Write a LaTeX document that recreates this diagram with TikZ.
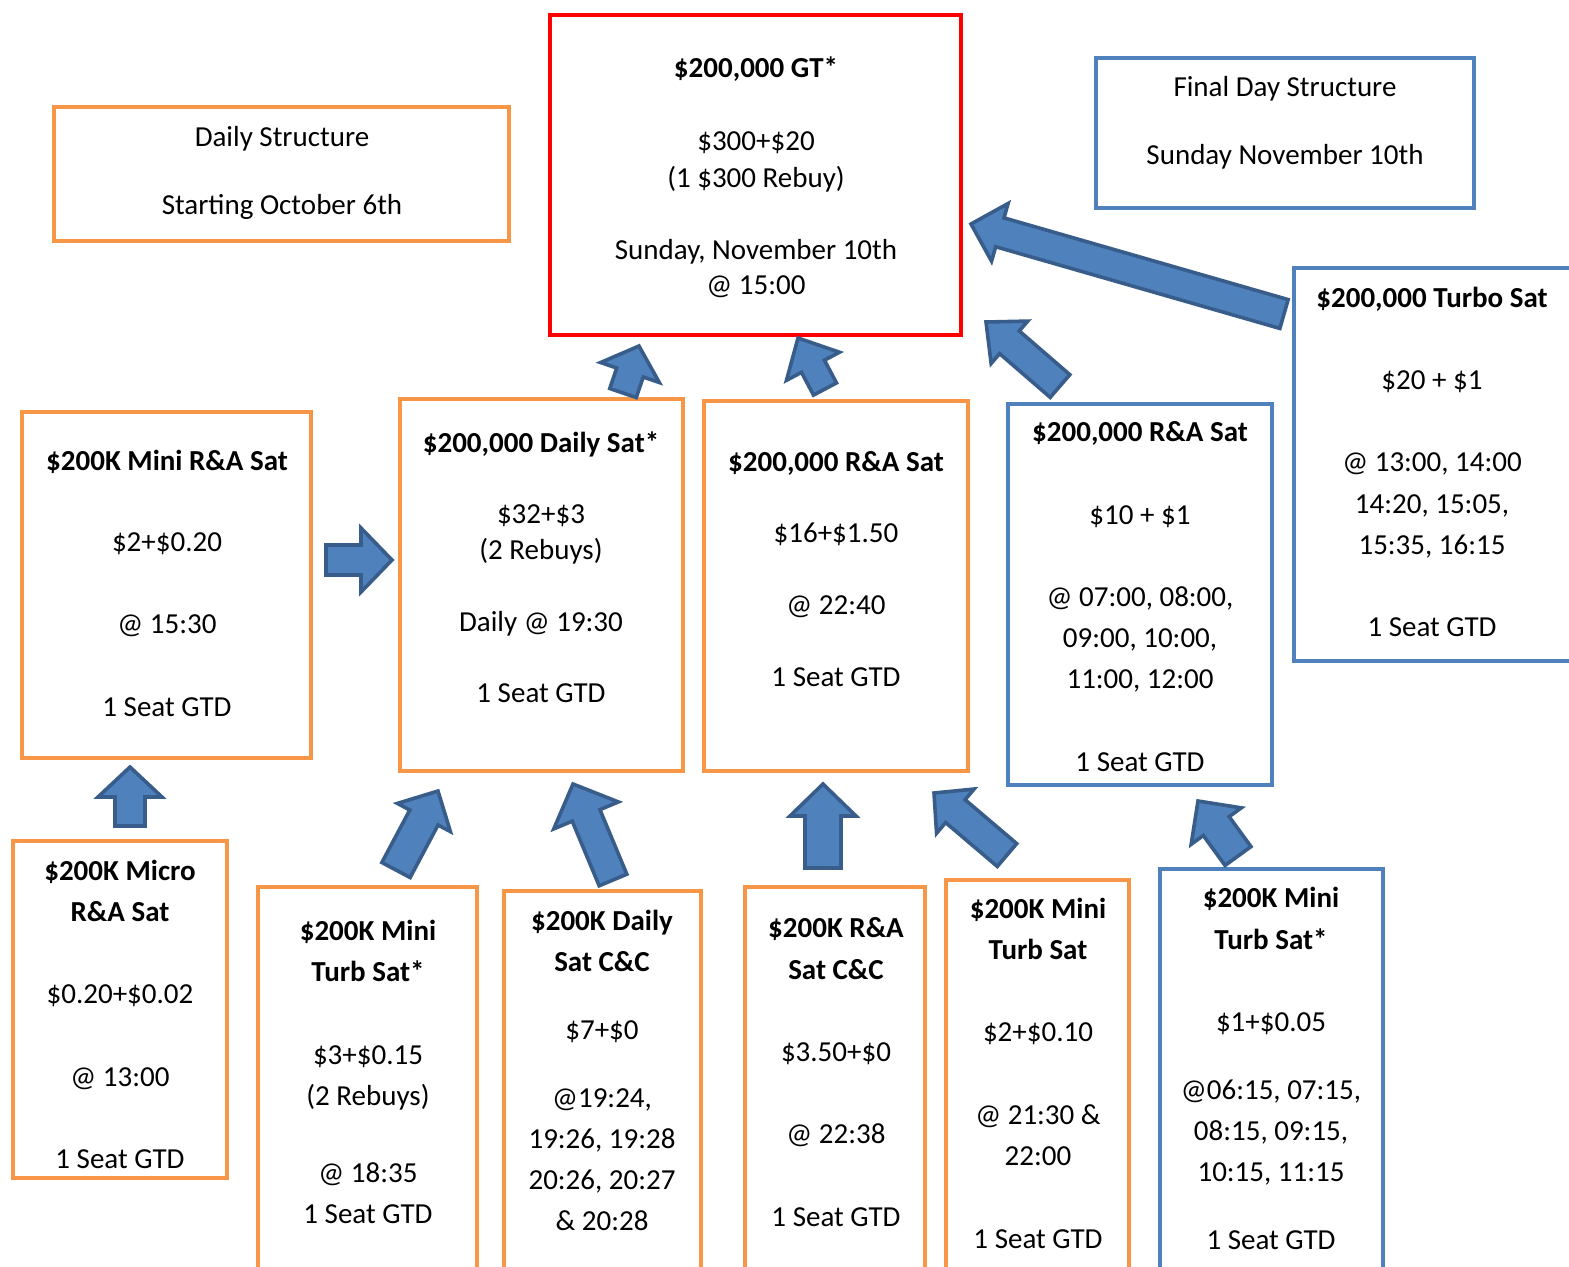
\documentclass[tikz,border=0pt]{standalone}
\usepackage{fontspec}
\setmainfont{Carlito}
\usetikzlibrary{calc,fit}
\definecolor{ora}{HTML}{F79646}
\definecolor{blu}{HTML}{4F81BD}
\definecolor{dblu}{HTML}{385D8A}
\definecolor{rd}{HTML}{FF0000}
\tikzset{
  bx/.style={draw, line width=2pt, inner sep=0pt, fill=none},
  obox/.style={bx, draw=ora, fit={#1}},
  bbox/.style={bx, draw=blu, fit={#1}},
  rbox/.style={bx, draw=rd, fit={#1}},
  lbl/.style={anchor=base, inner sep=0pt, font=\fontsize{14.5}{17}\selectfont},
  blockarrow/.style={fill=blu, draw=dblu, line width=1.8pt, line join=miter},
}
\newcommand\tl[4]{\node[lbl] (#1) at (#2,#3+9) {#4};}
\newcommand\tb[4]{\node[lbl, font=\fontsize{14.5}{17}\selectfont\bfseries] (#1) at (#2,#3+9) {#4};}
% tail, head, half shaft, half head, head length (pt)
\newcommand\barrow[5]{%
  \coordinate (bn) at ($(#2)!#5!(#1)$);
  \draw[blockarrow] ($(#1)!#3!90:(#2)$) -- ($(bn)!#3!-90:(#1)$) -- ($(bn)!#4!-90:(#1)$) -- (#2)
    -- ($(bn)!#4!90:(#1)$) -- ($(bn)!#3!90:(#1)$) -- ($(#1)!#3!-90:(#2)$) -- cycle;}
\begin{document}
\begin{tikzpicture}[x=0.5pt,y=-0.5pt]
\useasboundingbox (0,0) rectangle (1569,1266);
\clip (0,0) rectangle (1569,1266);

% boxes
\node[obox={(54,107) (509,241)}] (daily) {};
\node[rbox={(550,15) (961,335)}] (gt) {};
\node[bbox={(1096,58) (1474,208)}] (final) {};
\node[bbox={(1294,268) (1600,661)}] (turbo) {};
\node[obox={(22,412) (311,758)}] (minira) {};
\node[obox={(400,399) (683,771)}] (dsat) {};
\node[obox={(704,401) (968,771)}] (ra) {};
\node[bbox={(1008,404) (1272,785)}] (rab) {};
\node[obox={(13,841) (227,1178)}] (micro) {};
\node[obox={(258,887) (477,1300)}] (mts) {};
\node[obox={(504,891) (701,1300)}] (dcc) {};
\node[obox={(745,887) (925,1300)}] (racc) {};
\node[obox={(946,880) (1129,1300)}] (mt) {};
\node[bbox={(1160,869) (1383,1300)}] (mtb) {};

% texts
\tl{d1}{282}{137}{Daily Structure}
\tl{d2}{282}{205}{Starting October 6th}

\tb{g1}{756}{68}{\$200,000 GT*}
\tl{g2}{756}{141}{\$300+\$20}
\tl{g3}{756}{178}{(1 \$300 Rebuy)}
\tl{g4}{756}{250}{Sunday, November 10th}
\tl{g5}{756}{285}{@ 15:00}

\tl{f1}{1285}{87}{Final Day Structure}
\tl{f2}{1285}{155}{Sunday November 10th}

\tb{t1}{1432}{298}{\$200,000 Turbo Sat}
\tl{t2}{1432}{380}{\$20 + \$1}
\tl{t3}{1432}{462}{@ 13:00, 14:00}
\tl{t4}{1432}{504}{14:20, 15:05,}
\tl{t5}{1432}{545}{15:35, 16:15}
\tl{t6}{1432}{627}{1 Seat GTD}

\tb{m1}{167}{461}{\$200K Mini R\&A Sat}
\tl{m2}{167}{542}{\$2+\$0.20}
\tl{m3}{167}{624}{@ 15:30}
\tl{m4}{167}{707}{1 Seat GTD}

\tb{s1}{541}{443}{\$200,000 Daily Sat*}
\tl{s2}{541}{514}{\$32+\$3}
\tl{s3}{541}{550}{(2 Rebuys)}
\tl{s4}{541}{622}{Daily @ 19:30}
\tl{s5}{541}{693}{1 Seat GTD}

\tb{r1}{836}{462}{\$200,000 R\&A Sat}
\tl{r2}{836}{533}{\$16+\$1.50}
\tl{r3}{836}{605}{@ 22:40}
\tl{r4}{836}{677}{1 Seat GTD}

\tb{rb1}{1140}{432}{\$200,000 R\&A Sat}
\tl{rb2}{1140}{515}{\$10 + \$1}
\tl{rb3}{1140}{597}{@ 07:00, 08:00,}
\tl{rb4}{1140}{638}{09:00, 10:00,}
\tl{rb5}{1140}{679}{11:00, 12:00}
\tl{rb6}{1140}{762}{1 Seat GTD}

\tb{mi1}{120}{871}{\$200K Micro}
\tb{mi2}{120}{912}{R\&A Sat}
\tl{mi3}{120}{994}{\$0.20+\$0.02}
\tl{mi4}{120}{1077}{@ 13:00}
\tl{mi5}{120}{1159}{1 Seat GTD}

\tb{ms1}{368}{931}{\$200K Mini}
\tb{ms2}{368}{972}{Turb Sat*}
\tl{ms3}{368}{1055}{\$3+\$0.15}
\tl{ms4}{368}{1096}{(2 Rebuys)}
\tl{ms5}{368}{1173}{@ 18:35}
\tl{ms6}{368}{1214}{1 Seat GTD}

\tb{dc1}{602}{921}{\$200K Daily}
\tb{dc2}{602}{962}{Sat C\&C}
\tl{dc3}{602}{1030}{\$7+\$0}
\tl{dc4}{602}{1098}{@19:24,}
\tl{dc5}{602}{1139}{19:26, 19:28}
\tl{dc6}{602}{1180}{20:26, 20:27}
\tl{dc7}{602}{1221}{\& 20:28}

\tb{rc1}{836}{928}{\$200K R\&A}
\tb{rc2}{836}{970}{Sat C\&C}
\tl{rc3}{836}{1052}{\$3.50+\$0}
\tl{rc4}{836}{1134}{@ 22:38}
\tl{rc5}{836}{1217}{1 Seat GTD}

\tb{mt1}{1038}{909}{\$200K Mini}
\tb{mt2}{1038}{950}{Turb Sat}
\tl{mt3}{1038}{1032}{\$2+\$0.10}
\tl{mt4}{1038}{1115}{@ 21:30 \&}
\tl{mt5}{1038}{1156}{22:00}
\tl{mt6}{1038}{1239}{1 Seat GTD}

\tb{mb1}{1271}{898}{\$200K Mini}
\tb{mb2}{1271}{940}{Turb Sat*}
\tl{mb3}{1271}{1022}{\$1+\$0.05}
\tl{mb4}{1271}{1090}{@06:15, 07:15,}
\tl{mb5}{1271}{1131}{08:15, 09:15,}
\tl{mb6}{1271}{1172}{10:15, 11:15}
\tl{mb7}{1271}{1240}{1 Seat GTD}

% block arrows
\coordinate (a1t) at (1284,314); \coordinate (a1h) at (971,224);
\coordinate (a2t) at (623,393);  \coordinate (a2h) at (639,346);
\coordinate (a3t) at (825,389);  \coordinate (a3h) at (798,338);
\coordinate (a4t) at (1060,386); \coordinate (a4h) at (986,322);
\coordinate (a5t) at (326,560);  \coordinate (a5h) at (392,560);
\coordinate (a6t) at (130,826);  \coordinate (a6h) at (130,767);
\coordinate (a7t) at (396,870);  \coordinate (a7h) at (438,791);
\coordinate (a8t) at (613,880);  \coordinate (a8h) at (573,784);
\coordinate (a9t) at (823,868);  \coordinate (a9h) at (823,784);
\coordinate (a10t) at (1007,855); \coordinate (a10h) at (934,793);
\coordinate (a11t) at (1238,856); \coordinate (a11h) at (1198,801);

\barrow{a1t}{a1h}{7.5pt}{15pt}{15pt}
\barrow{a2t}{a2h}{7pt}{15.5pt}{14pt}
\barrow{a3t}{a3h}{6.5pt}{15pt}{16pt}
\barrow{a4t}{a4h}{7.5pt}{14pt}{15.5pt}
\barrow{a5t}{a5h}{7.5pt}{16pt}{15.5pt}
\barrow{a6t}{a6h}{7.5pt}{16pt}{15pt}
\barrow{a7t}{a7h}{8pt}{15pt}{15pt}
\barrow{a8t}{a8h}{7.5pt}{17.5pt}{17pt}
\barrow{a9t}{a9h}{9pt}{16.5pt}{16pt}
\barrow{a10t}{a10h}{7.5pt}{14.5pt}{14pt}
\barrow{a11t}{a11h}{8pt}{15.5pt}{15.5pt}
\end{tikzpicture}
\end{document}
